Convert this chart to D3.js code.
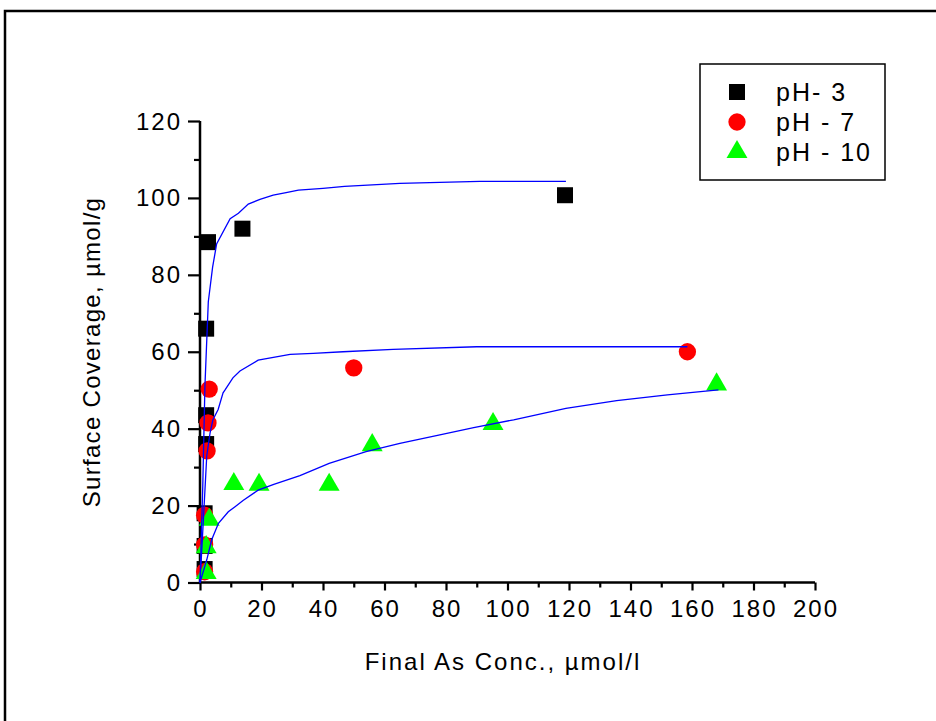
<!DOCTYPE html>
<html>
<head>
<meta charset="utf-8">
<script src="https://cdn.jsdelivr.net/npm/d3@7"></script>
<style>
  body { margin: 0; background: #fff; }
  svg text { font-family: Arial, "Liberation Sans", sans-serif; fill: #000; }
</style>
</head>
<body>
<svg id="chart" width="936" height="721"></svg>
<script>
// measured points (final As conc, surface coverage)
const ph3X = [2.6, 13.8, 118.7, 2, 2, 2, 1.5, 1.5, 1.5];
const ph3Y = [88.5, 92, 100.7, 66, 43.5, 36, 18, 9.5, 3.5];

const ph7X = [158.5, 50, 3, 2.6, 2.3, 1.5, 1.5, 1.5];
const ph7Y = [60, 55.8, 50.3, 41.5, 34.2, 17.5, 9.8, 2.8];

const ph10X = [168, 95.3, 56, 42, 19.2, 11, 3, 2, 2];
const ph10Y = [51.5, 41.2, 35.7, 25.4, 25.4, 25.6, 16.3, 9.2, 2.5];

// fitted curves
const fit3X = [0, 0.9, 1.6, 2.7, 4.1, 5.4, 9.8, 12.5, 15.7, 19.5, 23.8, 28, 32, 40, 47, 65, 91, 119];
const fit3Y = [0, 25, 51, 73, 82, 88, 94.6, 96, 98.4, 99.6, 100.7, 101.4, 102, 102.5, 103, 103.8, 104.3, 104.3];

const fit7X = [0, 1.1, 2.2, 3.3, 4.2, 5.9, 7.5, 8.1, 10.7, 13, 18.9, 29.3, 36.8, 46.5, 62.8, 90, 158.5];
const fit7Y = [0, 16.3, 33, 39, 42.3, 45, 49.3, 50, 53.2, 55, 57.8, 59.3, 59.6, 60, 60.6, 61.3, 61.3];

const fit10X = [0, 2.2, 3.8, 6, 9.2, 11.4, 14, 18.9, 24, 32.5, 42, 54, 65, 78, 89, 102, 119, 135.5, 152, 168.6];
const fit10Y = [0, 5.9, 11.1, 15.4, 18.4, 19.7, 21.3, 24, 25.5, 27.8, 31, 34, 36.2, 38.4, 40.3, 42.3, 45.3, 47.3, 48.8, 50.1];

const xTicks = [0, 20, 40, 60, 80, 100, 120, 140, 160, 180, 200];
const yTicks = [0, 20, 40, 60, 80, 100, 120];
const legendLabels = ['pH- 3', 'pH - 7', 'pH - 10'];

const svg = d3.select('#chart');

// outer frame (runs off the right and bottom edges)
svg.append('rect')
    .attr('x', 5).attr('y', 11)
    .attr('width', 960).attr('height', 760)
    .attr('fill', 'none')
    .attr('stroke', '#000')
    .attr('stroke-width', 2.5);

const x = d3.scaleLinear().domain([0, 200]).range([200, 815]);
const y = d3.scaleLinear().domain([0, 120]).range([582.5, 121]);

// axes
const xAxis = svg.append('g').attr('transform', 'translate(0,582.5)');
xAxis.call(d3.axisBottom(x).tickValues(d3.range(0, 201, 10)).tickSize(5).tickFormat(''));
xAxis.call(g => g.selectAll('.tick line').filter(d => d % 20 === 0).attr('y2', 8));

const yAxis = svg.append('g').attr('transform', 'translate(200,0)');
yAxis.call(d3.axisLeft(y).tickValues(d3.range(0, 121, 10)).tickSize(6).tickFormat(''));
yAxis.call(g => g.selectAll('.tick line').filter(d => d % 20 === 0).attr('x2', -12));

[xAxis, yAxis].forEach(g => {
    g.select('.domain').attr('d', null);
    g.selectAll('.tick line').attr('stroke-width', 2.2);
});
svg.append('line').attr('x1', 200).attr('x2', 815).attr('y1', 582.5).attr('y2', 582.5)
    .attr('stroke', '#000').attr('stroke-width', 2.5);
svg.append('line').attr('x1', 200).attr('x2', 200).attr('y1', 121).attr('y2', 582.5)
    .attr('stroke', '#000').attr('stroke-width', 2.5);

svg.append('g').selectAll('text')
    .data(xTicks)
    .enter()
    .append('text')
    .attr('x', d => x(d) + 1)
    .attr('y', 617)
    .attr('text-anchor', 'middle')
    .attr('font-size', 24)
    .attr('letter-spacing', 2)
    .text(d => d);

svg.append('g').selectAll('text')
    .data(yTicks)
    .enter()
    .append('text')
    .attr('x', 182)
    .attr('y', d => y(d) + 8.5)
    .attr('text-anchor', 'end')
    .attr('font-size', 24)
    .attr('letter-spacing', 2)
    .text(d => d);

svg.append('text')
    .attr('x', 503).attr('y', 670)
    .attr('text-anchor', 'middle')
    .attr('font-size', 24)
    .attr('letter-spacing', 2)
    .text('Final As Conc., µmol/l');

svg.append('text')
    .attr('transform', 'translate(100,352) rotate(-90)')
    .attr('text-anchor', 'middle')
    .attr('font-size', 24)
    .attr('letter-spacing', 1.3)
    .text('Surface Coverage, µmol/g');

// markers
const sq = d3.symbol().type(d3.symbolSquare).size(256);
const ci = d3.symbol().type(d3.symbolCircle).size(235);
const tri = d3.symbol().type(d3.symbolTriangle).size(190);

const toPts = (xs, ys) => xs.map((v, i) => ({ x: v, y: ys[i] }));

svg.append('g').selectAll('path')
    .data(toPts(ph3X, ph3Y))
    .enter().append('path')
    .attr('d', sq)
    .attr('transform', d => `translate(${x(d.x)},${y(d.y)})`)
    .attr('fill', '#000');

svg.append('g').selectAll('path')
    .data(toPts(ph7X, ph7Y))
    .enter().append('path')
    .attr('d', ci)
    .attr('transform', d => `translate(${x(d.x)},${y(d.y)})`)
    .attr('fill', '#ff0000');

svg.append('g').selectAll('path')
    .data(toPts(ph10X, ph10Y))
    .enter().append('path')
    .attr('d', tri)
    .attr('transform', d => `translate(${x(d.x)},${y(d.y)})`)
    .attr('fill', '#00ff00');

// fit curves on top
const line = d3.line().x(d => x(d.x)).y(d => y(d.y));
[[fit3X, fit3Y], [fit7X, fit7Y], [fit10X, fit10Y]].forEach(([xs, ys]) => {
    svg.append('path')
        .datum(toPts(xs, ys))
        .attr('d', line)
        .attr('fill', 'none')
        .attr('stroke', '#0000ff')
        .attr('stroke-width', 1.3);
});

// legend
const legend = svg.append('g');
legend.append('rect')
    .attr('x', 700).attr('y', 64)
    .attr('width', 185).attr('height', 116)
    .attr('fill', '#fff')
    .attr('stroke', '#000')
    .attr('stroke-width', 1.5);

const legSyms = [sq, ci, tri];
const legColors = ['#000', '#ff0000', '#00ff00'];
legendLabels.forEach((lab, i) => {
    const ly = 92 + i * 30;
    legend.append('path')
        .attr('d', legSyms[i])
        .attr('transform', `translate(737,${ly})`)
        .attr('fill', legColors[i]);
    legend.append('text')
        .attr('x', 776).attr('y', ly + 9)
        .attr('font-size', 25)
        .attr('letter-spacing', 2)
        .text(lab);
});
</script>
</body>
</html>
